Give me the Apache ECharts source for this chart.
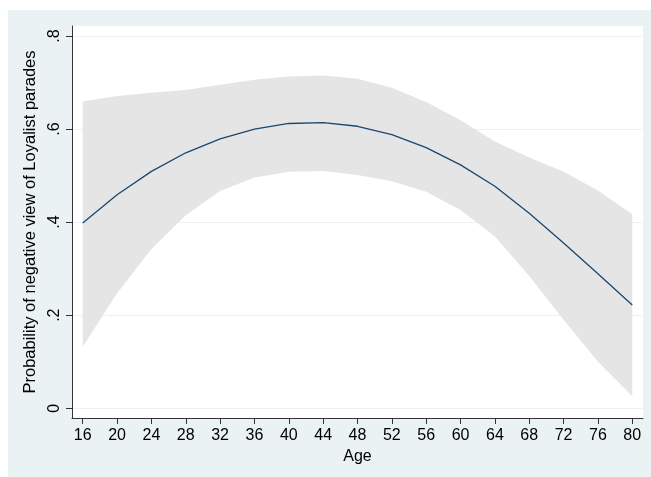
<!DOCTYPE html>
<html>
<head>
<meta charset="utf-8">
<script src="https://cdn.jsdelivr.net/npm/echarts@6/dist/echarts.min.js"></script>
<style>
html,body{margin:0;padding:0;background:#fff;}
#c{width:651px;height:477px;}
</style>
</head>
<body>
<div id="c"></div>
<script>
const ages = [16,20,24,28,32,36,40,44,48,52,56,60,64,68,72,76,80];
const prob = [0.398,0.459,0.509,0.549,0.579,0.600,0.612,0.614,0.606,0.588,0.560,0.523,0.477,0.419,0.355,0.289,0.222];
const upper = [0.659,0.671,0.678,0.684,0.695,0.706,0.713,0.715,0.708,0.689,0.658,0.619,0.573,0.539,0.508,0.468,0.417];
const lower = [0.132,0.247,0.342,0.415,0.467,0.496,0.508,0.510,0.501,0.488,0.465,0.426,0.369,0.284,0.190,0.100,0.026];
const xTicks = [16,20,24,28,32,36,40,44,48,52,56,60,64,68,72,76,80];
const yTicks = [0,0.2,0.4,0.6,0.8];
const yTickLabels = ['0','.2','.4','.6','.8'];

const chart = echarts.init(document.getElementById('c'), null, {renderer:'canvas'});
const font = 'Liberation Sans, Arial, Helvetica, sans-serif';
const lineData = ages.map((a,i)=>[a, prob[i]]);
const bandData = ages.map((a,i)=>[a, lower[i], upper[i]]);

chart.setOption({
  animation:false,
  backgroundColor:'#ffffff',
  graphic:[{
    type:'rect', z:-10, silent:true,
    shape:{x:8,y:10,width:643,height:467},
    style:{fill:'#eaf2f3'}
  },{
    type:'rect', z:-9, silent:true,
    shape:{x:72,y:26,width:571,height:392},
    style:{fill:'#ffffff'}
  }],
  grid:{left:72,right:8,top:26,bottom:59,containLabel:false},
  xAxis:{
    type:'value', min:14.75, max:81.25,
    name:'Age', nameLocation:'middle', nameGap:27,
    nameTextStyle:{fontFamily:font,fontSize:16,color:'#000'},
    axisLine:{show:true,onZero:false,lineStyle:{color:'#333',width:1}},
    axisTick:{show:true,length:6,customValues:xTicks,lineStyle:{color:'#333'}},
    axisLabel:{customValues:xTicks,fontFamily:font,fontSize:16,color:'#000',margin:10},
    splitLine:{show:false}
  },
  yAxis:{
    type:'value', min:-0.021, max:0.8215,
    name:'Probability of negative view of Loyalist parades',
    nameLocation:'middle', nameGap:22, nameRotate:90,
    nameTextStyle:{fontFamily:font,fontSize:16.5,color:'#000'},
    axisLine:{show:true,onZero:false,lineStyle:{color:'#333',width:1}},
    axisTick:{show:true,length:6,customValues:yTicks,lineStyle:{color:'#333'}},
    axisLabel:{customValues:yTicks,rotate:90,fontFamily:font,fontSize:16,color:'#000',margin:9,
      formatter:function(v){const i=yTicks.findIndex(t=>Math.abs(t-v)<1e-9);return i>=0?yTickLabels[i]:'';}},
    splitLine:{show:true,lineStyle:{color:'#eaf2f3',width:1}}
  },
  series:[{
    type:'custom', data:bandData, silent:true, z:1,
    encode:{x:0,y:[1,2]},
    renderItem:function(params, api){
      if (params.dataIndex !== 0) return null;
      const top = bandData.map(d=>api.coord([d[0], d[2]]));
      const bot = bandData.map(d=>api.coord([d[0], d[1]])).reverse();
      return {type:'polygon', shape:{points:top.concat(bot)}, style:{fill:'#e5e5e5'}};
    }
  },{
    type:'line', data:lineData, symbol:'none', z:3,
    lineStyle:{color:'#1a476f',width:1.3}
  }]
});
</script>
</body>
</html>
